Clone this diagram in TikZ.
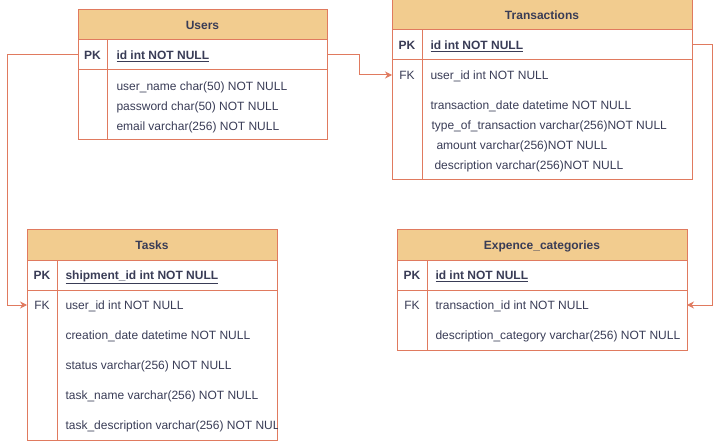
\documentclass[tikz,border=0pt]{standalone}
\usepackage{fontspec}
\setmainfont{Liberation Sans}
\usepackage{xcolor}
\usetikzlibrary{arrows.meta, positioning}

\definecolor{head}{HTML}{F2CC8F}
\definecolor{edge}{HTML}{E07A5F}
\definecolor{ink}{HTML}{393C56}

\begin{document}
\begin{tikzpicture}[x=1pt, y=-1pt, line width=1pt, text=ink,
    font=\fontsize{12}{14}\selectfont,
    headbox/.style={draw=edge, fill=head, anchor=north west, minimum height=30, inner sep=0, outer sep=0, text height=9.6pt, text depth=0pt, font=\fontsize{12}{14}\selectfont\bfseries},
    rowbox/.style={draw=edge, anchor=north west, minimum height=30, inner sep=0, outer sep=0},
    bodybox/.style={draw=edge, anchor=north west, inner sep=0, outer sep=0},
    fkrow/.style={anchor=north west, minimum height=30, inner sep=0, outer sep=0},
    key/.style={inner sep=0, text height=9.6pt, text depth=0pt},
    pkkey/.style={key, font=\fontsize{12}{14}\selectfont\bfseries},
    field/.style={anchor=west, inner sep=0, text height=9.6pt, text depth=0pt},
    pkfield/.style={field, font=\fontsize{12}{14}\selectfont\bfseries},
    link/.style={draw=edge, -{Stealth[length=7pt, width=7pt]}}]
    \useasboundingbox (0,0) rectangle (721,441);

    % Users table
    \node[headbox, minimum width=249] (usersHead) at (78,10) {Users};
    \node[rowbox, minimum width=249] (usersPK) at (78,40) {};
    \node[bodybox, minimum width=249, minimum height=70] (usersBody) at (78,70) {};
    \draw[edge] ([xshift=29]usersPK.north west) -- ([xshift=29]usersBody.south west);
    \node[pkkey] (usersPKkey) at (92.5,55) {PK};
    \node[pkfield] (usersId) at (116,55) {\underline{id int NOT NULL}};
    \node[field] (usersName) at (116,86) {user\_name char(50) NOT NULL};
    \node[field] (usersPass) at (116,106) {password char(50) NOT NULL};
    \node[field] (usersMail) at (116,126) {email varchar(256) NOT NULL};

    % Transactions table
    \node[headbox, minimum width=300] (transHead) at (392,0) {Transactions};
    \node[rowbox, minimum width=300] (transPK) at (392,30) {};
    \node[bodybox, minimum width=300, minimum height=120] (transBody) at (392,60) {};
    \node[fkrow, minimum width=300] (transFK) at (392,60) {};
    \draw[edge] ([xshift=30]transPK.north west) -- ([xshift=30]transBody.south west);
    \node[pkkey] (transPKkey) at (407,45) {PK};
    \node[pkfield] (transId) at (430,45) {\underline{id int NOT NULL}};
    \node[key] (transFKkey) at (407,75) {FK};
    \node[field] (transUser) at (430,75) {user\_id int NOT NULL};
    \node[field] (transDate) at (430,105) {transaction\_date datetime NOT NULL};
    \node[field] (transType) at (431,125) {type\_of\_transaction varchar(256)NOT NULL};
    \node[field] (transAmount) at (436,145) {amount varchar(256)NOT NULL};
    \node[field] (transDesc) at (434,165) {description varchar(256)NOT NULL};

    % Tasks table
    \node[headbox, minimum width=250] (tasksHead) at (27,230) {Tasks};
    \node[rowbox, minimum width=250] (tasksPK) at (27,260) {};
    \node[bodybox, minimum width=250, minimum height=150] (tasksBody) at (27,290) {};
    \node[fkrow, minimum width=250] (tasksFK) at (27,290) {};
    \draw[edge] ([xshift=30]tasksPK.north west) -- ([xshift=30]tasksBody.south west);
    \node[pkkey] (tasksPKkey) at (42,275) {PK};
    \node[pkfield] (tasksId) at (65,275) {\underline{shipment\_id int NOT NULL}};
    \node[key] (tasksFKkey) at (42,305) {FK};
    \node[field] (tasksUser) at (65,305) {user\_id int NOT NULL};
    \node[field] (tasksDate) at (65,335) {creation\_date datetime NOT NULL};
    \node[field] (tasksStatus) at (65,365) {status varchar(256) NOT NULL};
    \node[field] (tasksName) at (65,395) {task\_name varchar(256) NOT NULL};
    \begin{scope}
        \clip (tasksBody.north west) rectangle (tasksBody.south east);
        \node[field] (tasksDesc) at (65,425) {task\_description varchar(256) NOT NULL};
    \end{scope}

    % Expence_categories table
    \node[headbox, minimum width=290] (expHead) at (397,230) {Expence\_categories};
    \node[rowbox, minimum width=290] (expPK) at (397,260) {};
    \node[bodybox, minimum width=290, minimum height=60] (expBody) at (397,290) {};
    \node[fkrow, minimum width=290] (expFK) at (397,290) {};
    \draw[edge] ([xshift=30]expPK.north west) -- ([xshift=30]expBody.south west);
    \node[pkkey] (expPKkey) at (412,275) {PK};
    \node[pkfield] (expId) at (435,275) {\underline{id int NOT NULL}};
    \node[key] (expFKkey) at (412,305) {FK};
    \node[field] (expTrans) at (435,305) {transaction\_id int NOT NULL};
    \node[field] (expDesc) at (435,335) {description\_category varchar(256) NOT NULL};

    % Relations
    \draw[link] (usersPK.east) -- ++(32,0) |- (transFK.west);
    \draw[link] (usersPK.west) -- ++(-71,0) |- (tasksFK.west);
    \draw[link] (transPK.east) -- ++(20,0) |- (expFK.east);
\end{tikzpicture}
\end{document}
